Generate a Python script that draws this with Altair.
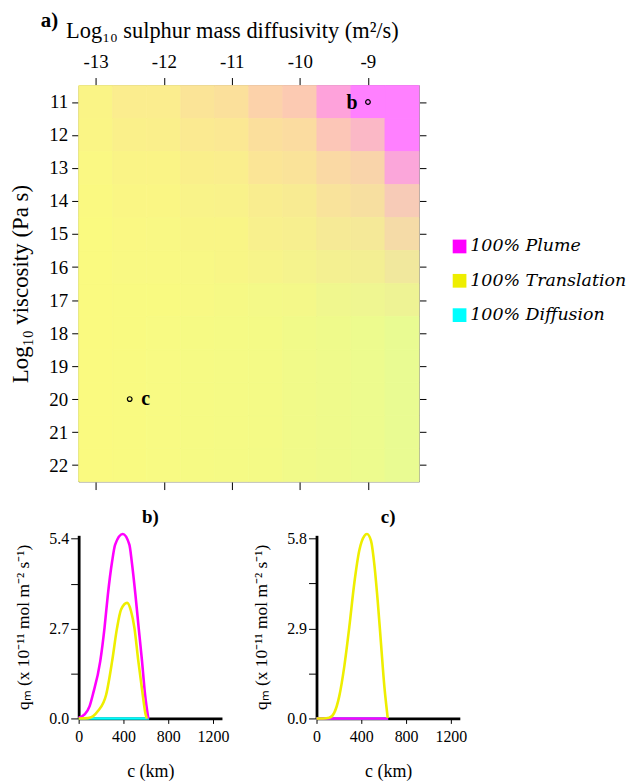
import altair as alt
import pandas as pd

# ---------------- data ----------------
log_diffusivity = [-13.0, -12.5, -12.0, -11.5, -11.0, -10.5, -10.0, -9.5, -9.0, -8.5]
log_viscosity = [11, 12, 13, 14, 15, 16, 17, 18, 19, 20, 21, 22]

plume_fraction = [
    [0.05, 0.11, 0.11, 0.18, 0.21, 0.33, 0.39, 0.72, 1.00, 1.00],
    [0.04, 0.08, 0.09, 0.13, 0.15, 0.22, 0.25, 0.43, 0.54, 1.00],
    [0.02, 0.05, 0.05, 0.09, 0.10, 0.17, 0.19, 0.27, 0.31, 0.69],
    [0.01, 0.03, 0.03, 0.06, 0.07, 0.11, 0.12, 0.19, 0.22, 0.39],
    [0.00, 0.02, 0.02, 0.04, 0.04, 0.08, 0.09, 0.13, 0.14, 0.26],
    [0.00, 0.01, 0.01, 0.02, 0.03, 0.05, 0.06, 0.08, 0.09, 0.15],
    [0.00, 0.00, 0.00, 0.01, 0.01, 0.01, 0.02, 0.03, 0.04, 0.06],
    [0.00, 0.00, 0.00, 0.00, 0.00, 0.00, 0.00, 0.00, 0.00, 0.00],
    [0.00, 0.00, 0.00, 0.00, 0.00, 0.00, 0.00, 0.00, 0.00, 0.00],
    [0.00, 0.00, 0.00, 0.00, 0.00, 0.00, 0.00, 0.00, 0.00, 0.00],
    [0.00, 0.00, 0.00, 0.00, 0.00, 0.00, 0.00, 0.00, 0.00, 0.00],
    [0.00, 0.00, 0.00, 0.00, 0.00, 0.00, 0.00, 0.00, 0.00, 0.00],
]
diffusion_fraction = [
    [0.00, 0.00, 0.00, 0.00, 0.00, 0.00, 0.00, 0.00, 0.00, 0.00],
    [0.00, 0.00, 0.00, 0.00, 0.00, 0.00, 0.00, 0.00, 0.01, 0.00],
    [0.00, 0.00, 0.00, 0.00, 0.00, 0.00, 0.01, 0.01, 0.02, 0.02],
    [0.00, 0.00, 0.00, 0.01, 0.01, 0.01, 0.02, 0.02, 0.03, 0.04],
    [0.00, 0.00, 0.01, 0.01, 0.01, 0.02, 0.03, 0.04, 0.05, 0.05],
    [0.00, 0.01, 0.01, 0.02, 0.02, 0.03, 0.04, 0.05, 0.06, 0.08],
    [0.00, 0.01, 0.01, 0.02, 0.03, 0.05, 0.05, 0.08, 0.09, 0.10],
    [0.00, 0.01, 0.02, 0.03, 0.04, 0.05, 0.07, 0.09, 0.11, 0.14],
    [0.00, 0.01, 0.02, 0.03, 0.04, 0.05, 0.07, 0.09, 0.11, 0.14],
    [0.00, 0.01, 0.02, 0.03, 0.04, 0.05, 0.07, 0.09, 0.11, 0.14],
    [0.00, 0.01, 0.02, 0.03, 0.04, 0.05, 0.07, 0.09, 0.11, 0.14],
    [0.00, 0.01, 0.02, 0.03, 0.04, 0.05, 0.07, 0.09, 0.11, 0.14],
]

marker_x = [-9.0, -12.5]
marker_y = [11, 20]
marker_label = ["b", "c"]

modes = ["100% Plume", "100% Translation", "100% Diffusion"]
mode_colors = ["#FF00FF", "#EEEE00", "#00FFFF"]

# pastel tints used in the map for pure translation / plume / diffusion
tint_translation = (250, 250, 128)
tint_plume = (255, 128, 255)
tint_diffusion = (128, 255, 255)

# panel b
b_plume_km = [0, 53, 98, 127, 193, 231, 261, 299, 326, 394, 453, 474, 507, 536, 566, 593, 622]
b_plume_q = [0.02, 0.12, 0.37, 0.72, 1.72, 2.72, 3.72, 4.72, 5.22, 5.54, 5.22, 4.72, 3.72, 2.72, 1.72, 0.72, 0.0]
b_trans_km = [0, 83, 127, 172, 246, 299, 343, 379, 433, 468, 498, 533, 572, 598, 610]
b_trans_q = [0.0, 0.01, 0.06, 0.22, 0.72, 1.72, 2.72, 3.27, 3.47, 3.22, 2.72, 1.72, 0.72, 0.12, 0.0]
b_diff_km = [0, 630]
b_diff_q = [0.0, 0.0]

# panel c
c_trans_km = [0, 60, 113, 158, 203, 248, 293, 337, 382, 427, 451, 487, 516, 546, 576, 606, 636]
c_trans_q = [0.0, 0.0, 0.02, 0.18, 0.71, 1.67, 2.95, 4.34, 5.41, 5.88, 5.94, 5.72, 4.98, 3.81, 2.42, 1.03, 0.02]
c_plume_km = [0, 640]
c_plume_q = [0.0, 0.0]
c_diff_km = [0, 640]
c_diff_q = [0.0, 0.0]

FONT = "Liberation Serif"
LEGFONT = "DejaVu Serif"

# ---------------- heatmap ----------------
def mix(p, d):
    t = 1.0 - p - d
    rgb = [round(tint_translation[k] * t + tint_plume[k] * p + tint_diffusion[k] * d) for k in range(3)]
    return "#%02X%02X%02X" % tuple(min(255, max(0, c)) for c in rgb)

rows = []
for i, v in enumerate(log_viscosity):
    for j, d in enumerate(log_diffusivity):
        rows.append({
            "x0": d - 0.25, "x1": d + 0.25,
            "y0": v - 0.5, "y1": v + 0.5,
            "fill": mix(plume_fraction[i][j], diffusion_fraction[i][j]),
        })
grid = pd.DataFrame(rows)

xs = alt.Scale(domain=[-13.25, -8.25], nice=False, zero=False)
ys = alt.Scale(domain=[10.5, 22.5], reverse=True, nice=False, zero=False)

top_axis = alt.Axis(orient="top", values=[-13, -12, -11, -10, -9], labelExpr="datum.value + ''",
                    title="Log₁₀ sulphur mass diffusivity (m²/s)", titleFontSize=22.5,
                    titleFontWeight="normal", labelFontSize=19, tickSize=8, labelPadding=6,
                    titlePadding=10, titleX=154, titleAlign="center", labelAngle=0,
                    domainColor="black")
left_axis = alt.Axis(orient="left", values=log_viscosity, title="Log₁₀ viscosity (Pa s)",
                     titleFontSize=23, titleFontWeight="normal", labelFontSize=19, tickSize=7,
                     labelPadding=4, titlePadding=16, domainColor="black")
bottom_axis = alt.Axis(orient="bottom", values=[-13, -12, -11, -10, -9], labels=False, title=None,
                       tickSize=8, domainColor="#999999")
right_axis = alt.Axis(orient="right", values=log_viscosity, labels=False, title=None,
                      tickSize=7, domainColor="#999999")

base = alt.Chart(grid).mark_rect(strokeWidth=0.8).encode(
    x=alt.X("x0:Q", scale=xs, axis=top_axis), x2="x1",
    y=alt.Y("y0:Q", scale=ys, axis=left_axis), y2="y1",
    color=alt.Color("fill:N", scale=None),
    stroke=alt.Stroke("fill:N", scale=None),
)

pts_df = pd.DataFrame({"x": marker_x, "y": marker_y, "label": marker_label})
pts = alt.Chart(pts_df).mark_point(shape="circle", size=22, filled=False, color="black",
                                   strokeWidth=1.2, opacity=1).encode(
    x=alt.X("x:Q", scale=xs, axis=bottom_axis),
    y=alt.Y("y:Q", scale=ys, axis=right_axis),
)
txt_b = alt.Chart(pts_df).transform_filter("datum.label == 'b'").mark_text(
    font=FONT, fontSize=20, fontWeight="bold", dx=-16, dy=1, color="black").encode(
    x=alt.X("x:Q", scale=xs, axis=None), y=alt.Y("y:Q", scale=ys, axis=None), text="label:N")
txt_c = alt.Chart(pts_df).transform_filter("datum.label == 'c'").mark_text(
    font=FONT, fontSize=20, fontWeight="bold", dx=16, dy=0, color="black").encode(
    x=alt.X("x:Q", scale=xs, axis=None), y=alt.Y("y:Q", scale=ys, axis=None), text="label:N")

leg_df = pd.DataFrame({"mode": modes})
leg = alt.Chart(leg_df).mark_square(opacity=0).encode(
    x=alt.value(0), y=alt.value(0),
    color=alt.Color("mode:N", scale=alt.Scale(domain=modes, range=mode_colors),
                    legend=alt.Legend(orient="none", legendX=374, legendY=153, title=None,
                                      symbolType="square", symbolSize=190, symbolOpacity=1,
                                      symbolStrokeWidth=0, labelFont=LEGFONT,
                                      labelFontStyle="italic", labelFontSize=17.5,
                                      labelLimit=300, labelColor="black", rowPadding=15.5,
                                      labelOffset=2)),
)

top = alt.layer(base, pts, txt_b, txt_c, leg).resolve_axis(
    x="independent", y="independent"
).properties(
    width=342, height=398,
    title=alt.Title("a)", anchor="start", frame="group", dx=-38, offset=-11, fontSize=21,
                    font=FONT, fontWeight="bold"),
)

# ---------------- line panels ----------------
def panel(series, ymax, yvals, title):
    xsc = alt.Scale(domain=[0, 1280], nice=False)
    ysc = alt.Scale(domain=[0, ymax], nice=False)
    lab_expr = ("(abs(datum.value - %f) < 0.001 || abs(datum.value - %f) < 0.001) ? '' : "
                "format(datum.value, '.1f')") % (yvals[1], yvals[3])
    xaxis = alt.Axis(values=[0, 400, 800, 1200], format="d", title="c (km)", titleFontSize=18,
                     titleFontWeight="normal", labelFontSize=16, tickSize=5, labelPadding=5,
                     titlePadding=18, domainWidth=2.8, domainColor="black", labelAngle=0,
                     labelFlush=False)
    yaxis = alt.Axis(values=yvals, labelExpr=lab_expr, title="qₘ (x 10⁻¹¹ mol m⁻² s⁻¹)",
                     titleFontSize=17.5, titleFontWeight="normal", labelFontSize=16, tickSize=8,
                     labelPadding=2, titlePadding=16, domainWidth=2.8, domainColor="black")
    layers = []
    for km, q, col in series:
        df = pd.DataFrame({"km": km, "q": q})
        layers.append(alt.Chart(df).mark_line(color=col, strokeWidth=2.6,
                                              interpolate="monotone").encode(
            x=alt.X("km:Q", scale=xsc, axis=xaxis),
            y=alt.Y("q:Q", scale=ysc, axis=yaxis),
        ))
    return alt.layer(*layers).properties(
        width=144, height=184,
        title=alt.Title(title, fontSize=19, font=FONT, fontWeight="bold", offset=2),
    )

pb = panel([(b_diff_km, b_diff_q, "#00FFFF"), (b_plume_km, b_plume_q, "#FF00FF"),
            (b_trans_km, b_trans_q, "#EEEE00")], 5.5, [0, 1.35, 2.7, 4.05, 5.4], "b)")
pc = panel([(c_diff_km, c_diff_q, "#00FFFF"), (c_plume_km, c_plume_q, "#FF00FF"),
            (c_trans_km, c_trans_q, "#EEEE00")], 5.9, [0, 1.45, 2.9, 4.35, 5.8], "c)")

bottom = alt.hconcat(pb, pc, spacing=95, bounds="flush")

chart = alt.vconcat(top, bottom, spacing=54, bounds="flush").properties(
    padding={"left": 2, "top": 0, "right": 0, "bottom": 0}
).configure_view(stroke=None).configure_axis(
    labelFont=FONT, titleFont=FONT, labelColor="black", titleColor="black",
    tickColor="black", grid=False
).configure_title(font=FONT, color="black")

chart.save("out.html", embed_options={"renderer": "svg", "actions": False})
